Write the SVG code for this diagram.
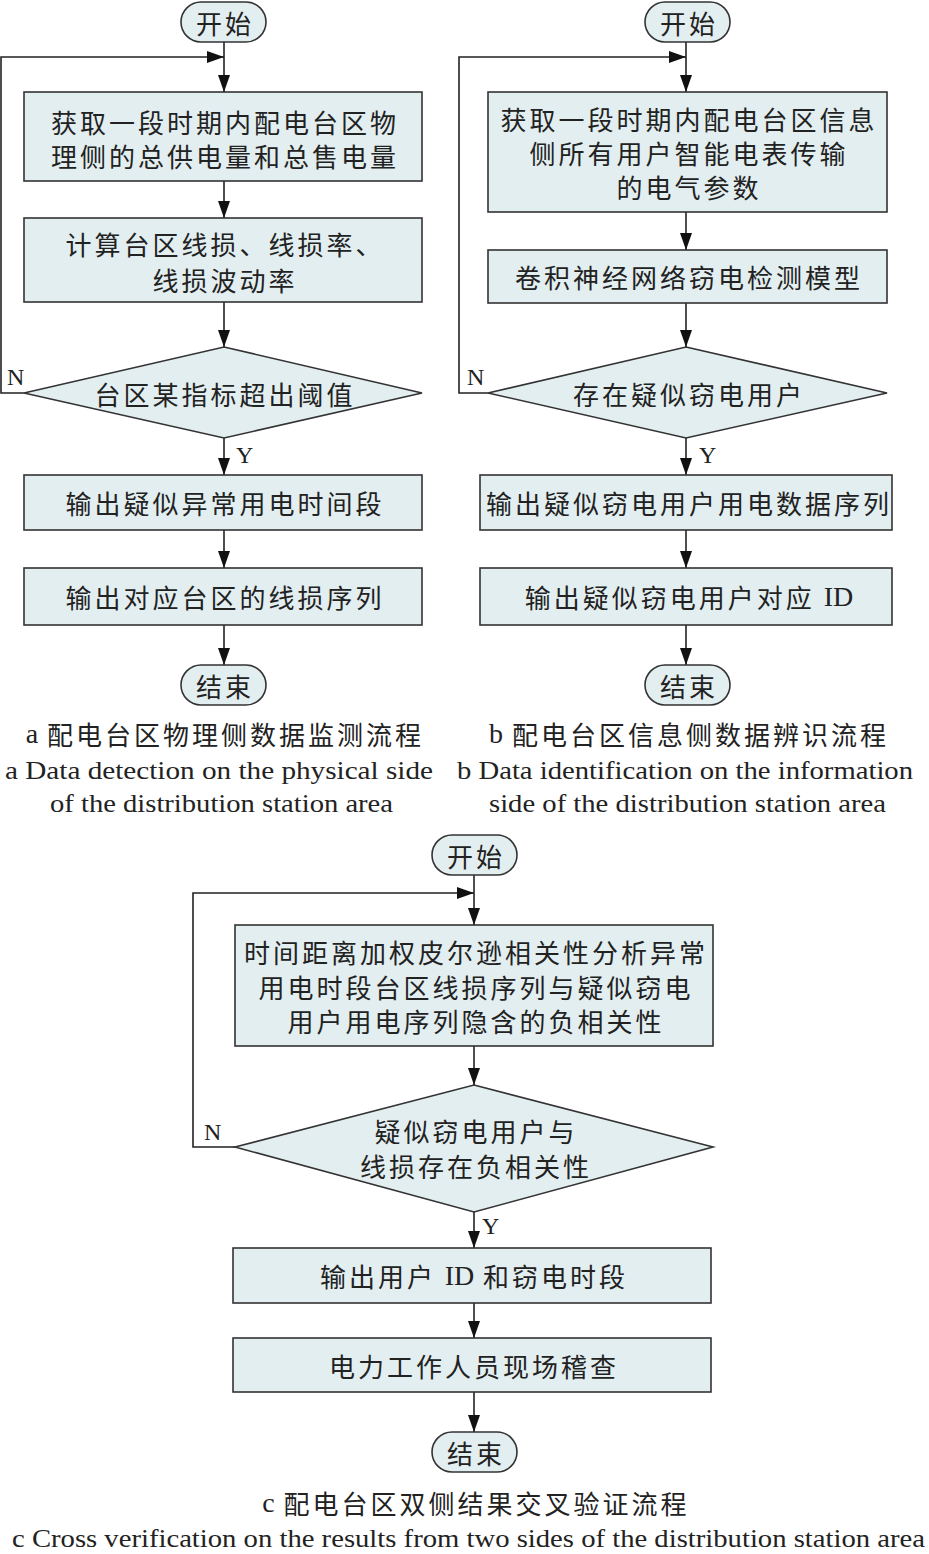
<svg xmlns="http://www.w3.org/2000/svg" width="929" height="1554" viewBox="0 0 929 1554">
<style>
.box{fill:#e3eef0;stroke:#333;stroke-width:1.6}
.ln{fill:none;stroke:#222;stroke-width:1.6}
.cn{font-family:"Noto Sans CJK SC","Liberation Sans",sans-serif;font-size:26px;letter-spacing:3px;fill:#222;text-anchor:middle;dominant-baseline:central}
.sf{font-family:"Liberation Serif",serif;font-size:28px;letter-spacing:0}
.en{font-family:"Liberation Serif",serif;font-size:26px;fill:#222;dominant-baseline:central}
.lb{font-family:"Liberation Serif",serif;font-size:24px;fill:#222;dominant-baseline:central}
</style>
<defs>
<marker id="ah" markerUnits="userSpaceOnUse" markerWidth="17" markerHeight="12" refX="17" refY="6" viewBox="0 0 17 12" orient="auto">
<path d="M0,0 L17,6 L0,12 Z" fill="#111"/>
</marker>
</defs>
<g id="connectors">
<path class="ln" d="M224,42 V92" marker-end="url(#ah)"/>
<path class="ln" d="M24,393 H1 V57 H224" marker-end="url(#ah)"/>
<path class="ln" d="M224,181 V218" marker-end="url(#ah)"/>
<path class="ln" d="M224,302 V347" marker-end="url(#ah)"/>
<path class="ln" d="M224,438 V475" marker-end="url(#ah)"/>
<path class="ln" d="M224,530 V568" marker-end="url(#ah)"/>
<path class="ln" d="M224,625 V665" marker-end="url(#ah)"/>
<path class="ln" d="M686,42 V92" marker-end="url(#ah)"/>
<path class="ln" d="M488,393 H459 V57 H686" marker-end="url(#ah)"/>
<path class="ln" d="M686,212 V250" marker-end="url(#ah)"/>
<path class="ln" d="M686,303 V347" marker-end="url(#ah)"/>
<path class="ln" d="M686,438 V475" marker-end="url(#ah)"/>
<path class="ln" d="M686,530 V568" marker-end="url(#ah)"/>
<path class="ln" d="M686,625 V665" marker-end="url(#ah)"/>
<path class="ln" d="M474,875 V925" marker-end="url(#ah)"/>
<path class="ln" d="M235,1147 H193 V893 H474" marker-end="url(#ah)"/>
<path class="ln" d="M474,1046 V1085" marker-end="url(#ah)"/>
<path class="ln" d="M474,1212 V1248" marker-end="url(#ah)"/>
<path class="ln" d="M474,1303 V1338" marker-end="url(#ah)"/>
<path class="ln" d="M474,1392 V1432" marker-end="url(#ah)"/>
<text class="lb" x="7" y="377">N</text>
<text class="lb" x="236" y="455">Y</text>
<text class="lb" x="467" y="377">N</text>
<text class="lb" x="699" y="455">Y</text>
<text class="lb" x="204" y="1132">N</text>
<text class="lb" x="482" y="1226">Y</text>
</g>
<g id="a_start"><rect class="box" x="181" y="2" width="85" height="40" rx="20"/><text class="cn" x="225" y="22">开始</text></g>
<g id="a_box1"><rect class="box" x="24" y="92" width="398" height="89"/><text class="cn" x="225" y="121">获取一段时期内配电台区物</text><text class="cn" x="225" y="155">理侧的总供电量和总售电量</text></g>
<g id="a_box2"><rect class="box" x="24" y="218" width="398" height="84"/><text class="cn" x="225" y="243">计算台区线损、线损率、</text><text class="cn" x="225" y="279">线损波动率</text></g>
<g id="a_dec"><polygon class="box" points="224,347 422,393 224,438 24,393"/><text class="cn" x="225" y="393">台区某指标超出阈值</text></g>
<g id="a_box3"><rect class="box" x="24" y="475" width="398" height="55"/><text class="cn" x="225" y="502">输出疑似异常用电时间段</text></g>
<g id="a_box4"><rect class="box" x="24" y="568" width="398" height="57"/><text class="cn" x="225" y="596">输出对应台区的线损序列</text></g>
<g id="a_end"><rect class="box" x="181" y="665" width="85" height="40" rx="20"/><text class="cn" x="225" y="685">结束</text></g>
<g id="a_caption"><text class="cn" x="225" y="733"><tspan class="sf">a</tspan>  配电台区物理侧数据监测流程</text><text class="en" x="5" y="770" textLength="428" lengthAdjust="spacingAndGlyphs">a  Data detection on the physical side</text><text class="en" x="50" y="803" textLength="343" lengthAdjust="spacingAndGlyphs">of the distribution station area</text></g>
<g id="b_start"><rect class="box" x="645" y="2" width="85" height="40" rx="20"/><text class="cn" x="689" y="22">开始</text></g>
<g id="b_box1"><rect class="box" x="488" y="92" width="399" height="120"/><text class="cn" x="689" y="118">获取一段时期内配电台区信息</text><text class="cn" x="689" y="152">侧所有用户智能电表传输</text><text class="cn" x="689" y="186">的电气参数</text></g>
<g id="b_box2"><rect class="box" x="488" y="250" width="399" height="53"/><text class="cn" x="689" y="276">卷积神经网络窃电检测模型</text></g>
<g id="b_dec"><polygon class="box" points="686,347 887,393 686,438 488,393"/><text class="cn" x="689" y="393">存在疑似窃电用户</text></g>
<g id="b_box3"><rect class="box" x="480" y="475" width="412" height="55"/><text class="cn" x="689" y="502">输出疑似窃电用户用电数据序列</text></g>
<g id="b_box4"><rect class="box" x="480" y="568" width="412" height="57"/><text class="cn" x="689" y="596">输出疑似窃电用户对应 <tspan class="sf">ID</tspan></text></g>
<g id="b_end"><rect class="box" x="645" y="665" width="85" height="40" rx="20"/><text class="cn" x="689" y="685">结束</text></g>
<g id="b_caption"><text class="cn" x="689" y="733"><tspan class="sf">b</tspan>  配电台区信息侧数据辨识流程</text><text class="en" x="457" y="770" textLength="456" lengthAdjust="spacingAndGlyphs">b  Data identification on the information</text><text class="en" x="489" y="803" textLength="397" lengthAdjust="spacingAndGlyphs">side of the distribution station area</text></g>
<g id="c_start"><rect class="box" x="432" y="835" width="85" height="40" rx="20"/><text class="cn" x="476" y="855">开始</text></g>
<g id="c_box1"><rect class="box" x="235" y="925" width="478" height="121"/><text class="cn" x="476" y="951">时间距离加权皮尔逊相关性分析异常</text><text class="cn" x="476" y="986">用电时段台区线损序列与疑似窃电</text><text class="cn" x="476" y="1020">用户用电序列隐含的负相关性</text></g>
<g id="c_dec"><polygon class="box" points="474,1085 713,1147 474,1212 235,1147"/><text class="cn" x="476" y="1130">疑似窃电用户与</text><text class="cn" x="476" y="1165">线损存在负相关性</text></g>
<g id="c_box2"><rect class="box" x="233" y="1248" width="478" height="55"/><text class="cn" x="474" y="1275">输出用户 <tspan class="sf">ID</tspan> 和窃电时段</text></g>
<g id="c_box3"><rect class="box" x="233" y="1338" width="478" height="54"/><text class="cn" x="474" y="1365">电力工作人员现场稽查</text></g>
<g id="c_end"><rect class="box" x="432" y="1432" width="85" height="40" rx="20"/><text class="cn" x="476" y="1452">结束</text></g>
<g id="c_caption"><text class="cn" x="476" y="1502"><tspan class="sf">c</tspan>  配电台区双侧结果交叉验证流程</text><text class="en" x="12" y="1538" textLength="913" lengthAdjust="spacingAndGlyphs">c  Cross verification on the results from two sides of the distribution station area</text></g>
</svg>
